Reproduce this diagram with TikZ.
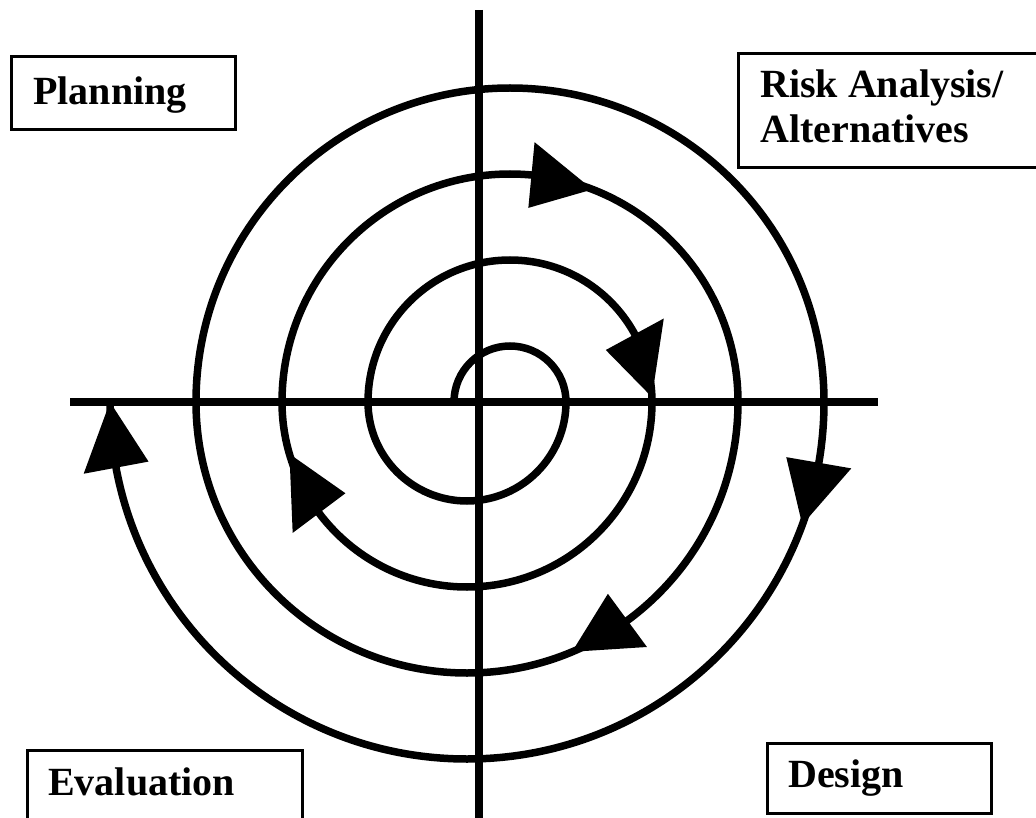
\documentclass[tikz,border=0pt]{standalone}
\usepackage{fontspec}
\setmainfont{Liberation Serif}
\usepackage{tikz}
\usetikzlibrary{calc}
\def\spiralhead(#1)(#2:#3:#4){\fill[shift={(#1)}] (#3:#2) -- (#4:{#2+33}) -- (#4:{#2-33}) -- cycle;}
\tikzset{
	lbl/.style={font=\bfseries\fontsize{40}{45}\selectfont, anchor=base west, inner sep=0pt},
	lblbox/.style={line width=3pt},
	axis/.style={line width=8.5pt},
	spiral/.style={line width=7.5pt}
}

\begin{document}
\begin{tikzpicture}[x=1pt, y=1pt]
		%%%%% START %%%%%
		\clip (0, 0) rectangle (1036, -818);
		
		\coordinate (T) at (510, -402);
		\coordinate (B) at (467, -402);
		
		% axes
		\draw[axis] (479, -10) -- (479, -830);
		\draw[axis] (70, -402) -- (878, -402);
		
		% spiral, top halves round T and bottom halves round B
		\draw[spiral] (454, -402)
			arc[start angle=180, end angle=0, radius=56]
			arc[start angle=0, end angle=-180, radius=99]
			arc[start angle=180, end angle=0, radius=142]
			arc[start angle=0, end angle=-180, radius=185]
			arc[start angle=180, end angle=0, radius=228]
			arc[start angle=0, end angle=-180, radius=271]
			arc[start angle=180, end angle=0, radius=314]
			arc[start angle=0, end angle=-180, radius=357];
		
		% heads
		\spiralhead(T)(228:68.8:84.6)
		\spiralhead(T)(142:2:28.5)
		\spiralhead(B)(185:-163.7:-143.1)
		\spiralhead(B)(271:-67.2:-53.7)
		\spiralhead(B)(357:-20.1:-9.8)
		\spiralhead(B)(357:-180:-169.4)
		
		% quadrant labels
		\draw[lblbox] (11, -57) rectangle (235, -130);
		\node[lbl] (plan) at (33, -105) {Planning};
		
		\draw[lblbox] (738, -54) rectangle (1045, -168);
		\node[lbl] (risk) at (760, -98) {Risk Analysis/};
		\node[lbl] (alt) at (760, -143) {Alternatives};
		
		\draw[lblbox] (27, -750) rectangle (302, -830);
		\node[lbl] (eval) at (48, -795) {Evaluation};
		
		\draw[lblbox] (767, -743) rectangle (991, -813);
		\node[lbl] (design) at (788, -787) {Design};
		
		%%%%% END %%%%%
	\end{tikzpicture}
\end{document}
